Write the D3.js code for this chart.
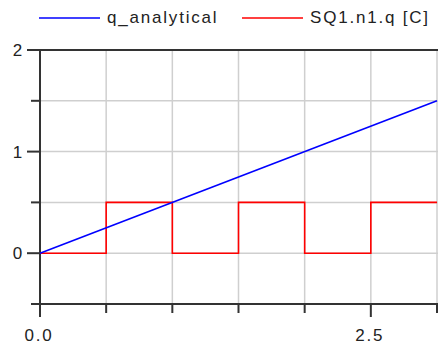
<!DOCTYPE html>
<html>
<head>
<meta charset="utf-8">
<script src="https://cdn.jsdelivr.net/npm/d3@7"></script>
<style>
  body { margin: 0; background: #fff; }
  text { font-family: "Liberation Sans", Arial, sans-serif; font-size: 17px; fill: #222; letter-spacing: 1.8px; }
  .grid { stroke: #cfcfcf; stroke-width: 1.5; }
  .dark { stroke: #333; stroke-width: 2; }
</style>
</head>
<body>
<svg width="438" height="350"></svg>
<script>
// series
var seriesNames = ['q_analytical', 'SQ1.n1.q [C]'];
var seriesColors = ['#0000ff', '#ff0000'];
var analyticalT = [0, 3];
var analyticalQ = [0, 1.5];
var squareT = [0, 0.5, 0.5, 1, 1, 1.5, 1.5, 2, 2, 2.5, 2.5, 3];
var squareQ = [0, 0, 0.5, 0.5, 0, 0, 0.5, 0.5, 0, 0, 0.5, 0.5];

// ticks
var xTicks = [0, 0.5, 1, 1.5, 2, 2.5, 3];
var xLabels = {0: '0.0', 2.5: '2.5'};
var yTicks = [-0.5, 0, 0.5, 1, 1.5, 2];
var yLabels = {0: '0', 1: '1', 2: '2'};

var svg = d3.select('svg');

var x = d3.scaleLinear().domain([0, 3]).range([40, 437]);
var y = d3.scaleLinear().domain([-0.5, 2]).range([304, 50]);

var g = svg.append('g');

// grid
g.selectAll('.vgrid')
    .data(xTicks.slice(1))
    .enter().append('line')
    .attr('class', 'grid')
    .attr('x1', d => x(d)).attr('x2', d => x(d))
    .attr('y1', y(2)).attr('y2', y(-0.5));

g.selectAll('.hgrid')
    .data(yTicks.filter(d => d > -0.5 && d < 2))
    .enter().append('line')
    .attr('class', 'grid')
    .attr('x1', x(0)).attr('x2', 438)
    .attr('y1', d => y(d)).attr('y2', d => y(d));

// frame lines
g.append('line').attr('class', 'dark')
    .attr('x1', x(0)).attr('x2', 438)
    .attr('y1', y(2)).attr('y2', y(2));
g.append('line').attr('class', 'dark')
    .attr('x1', x(0)).attr('x2', 438)
    .attr('y1', y(-0.5)).attr('y2', y(-0.5));
g.append('line').attr('class', 'dark')
    .attr('x1', x(0)).attr('x2', x(0))
    .attr('y1', y(2)).attr('y2', y(-0.5));

// y ticks
g.selectAll('.ytick')
    .data(yTicks)
    .enter().append('line')
    .attr('class', 'dark')
    .attr('x1', d => x(0) - (yLabels[d] ? 13 : 9)).attr('x2', x(0))
    .attr('y1', d => y(d)).attr('y2', d => y(d));

g.selectAll('.ylab')
    .data(yTicks.filter(d => yLabels[d]))
    .enter().append('text')
    .attr('x', 24)
    .attr('y', d => y(d) + 6)
    .attr('text-anchor', 'end')
    .text(d => yLabels[d]);

// x ticks
g.selectAll('.xtick')
    .data(xTicks)
    .enter().append('line')
    .attr('class', 'dark')
    .attr('x1', d => x(d)).attr('x2', d => x(d))
    .attr('y1', y(-0.5)).attr('y2', d => y(-0.5) + (xLabels[d] ? 13 : 9));

g.selectAll('.xlab')
    .data(xTicks.filter(d => xLabels[d]))
    .enter().append('text')
    .attr('x', d => x(d) - 1)
    .attr('y', 341)
    .attr('text-anchor', 'middle')
    .text(d => xLabels[d]);

// lines
var line = d3.line().x(d => x(d[0])).y(d => y(d[1]));

g.append('path')
    .datum(d3.zip(squareT, squareQ))
    .attr('d', line)
    .attr('fill', 'none')
    .attr('stroke', seriesColors[1])
    .attr('stroke-width', 1.6);

g.append('path')
    .datum(d3.zip(analyticalT, analyticalQ))
    .attr('d', line)
    .attr('fill', 'none')
    .attr('stroke', seriesColors[0])
    .attr('stroke-width', 1.6);

// legend
var legendX = [39, 242];
var leg = svg.selectAll('.legend')
    .data(seriesNames)
    .enter().append('g')
    .attr('transform', (d, i) => 'translate(' + legendX[i] + ',18)');
leg.append('line')
    .attr('x1', 0).attr('x2', 61)
    .attr('stroke', (d, i) => seriesColors[i])
    .attr('stroke-width', 1.6);
leg.append('text')
    .attr('x', 68)
    .attr('y', 5)
    .text(d => d);
</script>
</body>
</html>
